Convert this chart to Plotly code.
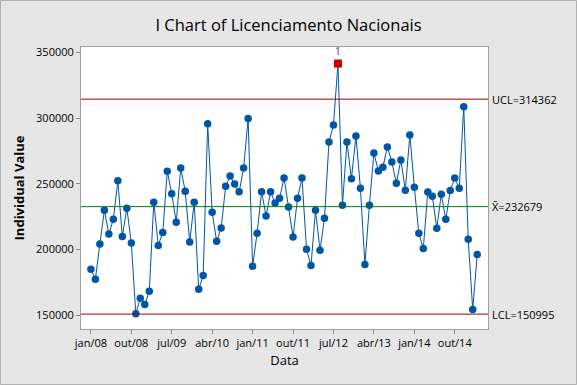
import plotly.graph_objects as go

values = [185100, 177500, 204200, 229900, 211800, 223000, 252300, 210000, 231500, 205000,
          151300, 163000, 158200, 168300, 236000, 203200, 213100, 259500, 242400, 220800,
          262000, 244400, 205700, 236000, 169800, 180300, 295600, 228400, 206300, 216400,
          248200, 255900, 249800, 243900, 262000, 299600, 187400, 212400, 243900, 225600,
          243900, 235500, 239100, 254400, 232400, 209500, 239100, 254400, 200200, 187900,
          229900, 199600, 223800, 281800, 294800, 341400, 233700, 281800, 253800, 286400,
          246700, 188700, 233700, 273400, 259700, 262700, 278000, 266600, 250500, 268100,
          245200, 287200, 247500, 212400, 200900, 243700, 240600, 216200, 242100, 223000,
          244900, 254400, 246700, 308500, 207800, 154400, 196300]
tick_labels = ["jan/08", "out/08", "jul/09", "abr/10", "jan/11", "out/11", "jul/12", "abr/13", "jan/14", "out/14"]
tick_index = [0, 9, 18, 27, 36, 45, 54, 63, 72, 81]
ucl, center, lcl = 314362, 232679, 150995
out_index = [55]

x = list(range(len(values)))
W, H = 577, 385
ml, mr, mt, mb = 81, 89, 47, 56
pw, ph = W - ml - mr, H - mt - mb
xr = [-2.2, 88.4]

fig = go.Figure()
fig.add_trace(go.Scatter(x=x, y=values, mode="lines+markers",
                         line=dict(color="#0055A5", width=1),
                         marker=dict(color="#0055A5", size=7.5), hoverinfo="skip"))
fig.add_trace(go.Scatter(x=[x[i] for i in out_index], y=[values[i] for i in out_index],
                         mode="markers+text", text=["1"], textposition="top center",
                         textfont=dict(family="Open Sans", size=10, color="#1f3a60"),
                         marker=dict(color="#D00000", symbol="square", size=8), hoverinfo="skip"))
for yv, col in [(ucl, "#990000"), (center, "#008000"), (lcl, "#990000")]:
    fig.add_shape(type="line", xref="x", yref="y", x0=xr[0], x1=xr[1], y0=yv, y1=yv,
                  line=dict(color=col, width=1))

labels = [(ucl, f"UCL={ucl}"), (center, f"X̄={center}"), (lcl, f"LCL={lcl}")]
for yv, t in labels:
    fig.add_annotation(xref="paper", yref="y", x=1.0, y=yv, text=t, showarrow=False,
                       xanchor="left", xshift=2, font=dict(family="Open Sans", size=11, color="#000000"))

fig.add_shape(type="rect", xref="paper", yref="paper",
              x0=-ml / pw + 0.5 / pw, x1=1 + (mr - 0.5) / pw,
              y0=-mb / ph + 0.5 / ph, y1=1 + (mt - 0.5) / ph,
              line=dict(color="#b0b0b0", width=1), layer="below")

fig.update_layout(
    width=W, height=H, margin=dict(l=ml, r=mr, t=mt, b=mb),
    paper_bgcolor="#e6e6e6", plot_bgcolor="#ffffff", showlegend=False,
    title=dict(text="I Chart of Licenciamento Nacionais", x=0.5, xanchor="center",
               y=1 - 25 / H, yanchor="middle",
               font=dict(family="Open Sans", size=16.5, color="#000000")),
    font=dict(family="Open Sans", color="#000000"),
)
fig.update_xaxes(range=xr, tickvals=tick_index, ticktext=tick_labels, ticks="outside",
                 ticklen=4, tickcolor="#888888", showgrid=False, zeroline=False,
                 showline=True, mirror=True, linecolor="#a0a0a0", linewidth=1,
                 tickfont=dict(size=11),
                 title=dict(text="Data", font=dict(size=13), standoff=6))
fig.update_yaxes(range=[139670, 354000], tickvals=[150000, 200000, 250000, 300000, 350000],
                 tickformat="d", ticks="outside", ticklen=4, tickcolor="#888888",
                 showgrid=False, zeroline=False, showline=True, mirror=True,
                 linecolor="#a0a0a0", linewidth=1, tickfont=dict(size=11),
                 title=dict(text="<b>Individual Value</b>", font=dict(size=13), standoff=8))
fig.write_html("out.html", config={"displayModeBar": False},
               post_script="document.body.style.margin='0px';document.body.style.overflow='hidden';")
